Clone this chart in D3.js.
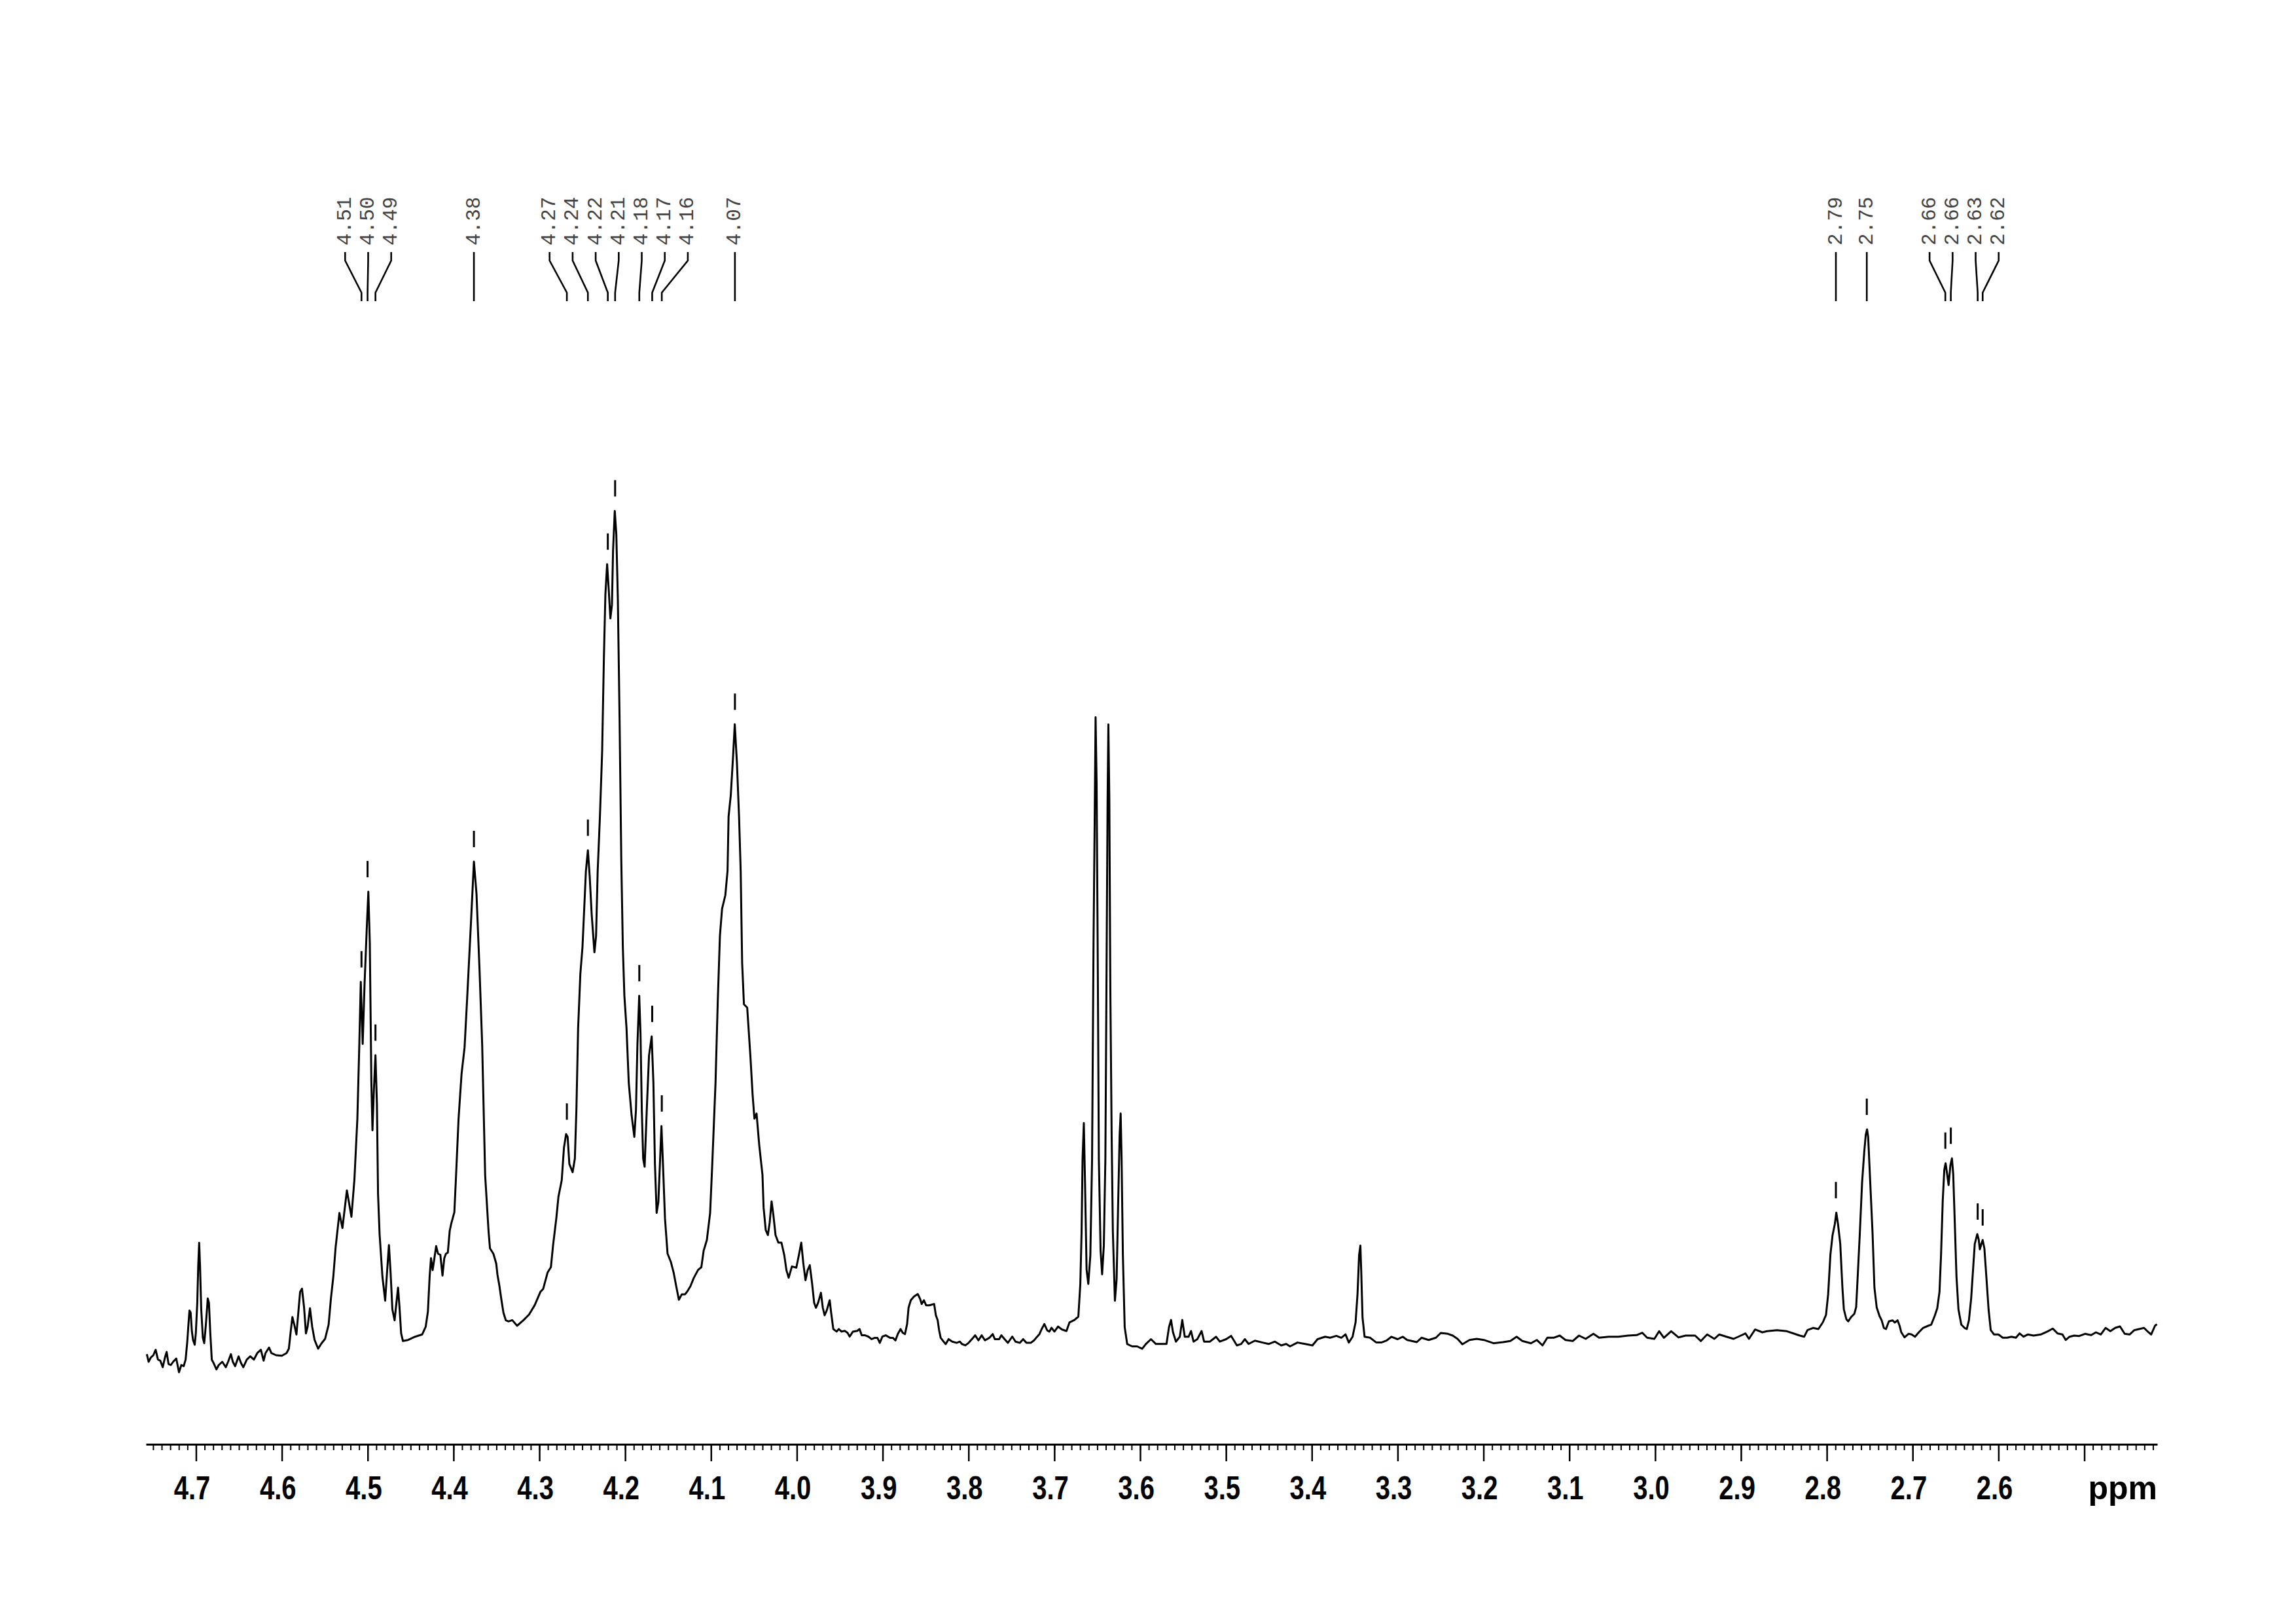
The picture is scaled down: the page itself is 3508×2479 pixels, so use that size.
<!DOCTYPE html>
<html><head><meta charset="utf-8">
<script src="https://cdn.jsdelivr.net/npm/d3@7"></script>
<style>html,body{margin:0;padding:0;background:#fff;} svg{display:block;}</style>
</head><body>
<svg id="chart" width="3508" height="2479"></svg>
<script>
// ---- DATA (chemical shift in ppm, intensity in arbitrary units) ----
const ppm = [
4.7573,4.7552,4.7525,4.7497,4.7470,4.7443,4.7416,4.7388,4.7361,4.7342,4.7320,4.7293,4.7266,4.7230,4.7198,4.7171,4.7143,4.7121,4.7102,4.7088,
4.7076,4.7062,4.7048,4.7034,4.7015,4.7002,4.6985,4.6974,4.6963,4.6953,4.6939,4.6920,4.6904,4.6885,4.6863,4.6849,4.6833,4.6816,4.6790,4.6762,
4.6735,4.6694,4.6653,4.6626,4.6593,4.6571,4.6544,4.6504,4.6476,4.6449,4.6408,4.6367,4.6326,4.6286,4.6244,4.6212,4.6190,4.6149,4.6122,4.6067,
4.5999,4.5945,4.5918,4.5899,4.5877,4.5855,4.5830,4.5809,4.5787,4.5765,4.5741,4.5719,4.5700,4.5672,4.5646,4.5618,4.5577,4.5537,4.5496,4.5455,
4.5428,4.5400,4.5373,4.5329,4.5294,4.5242,4.5189,4.5154,4.5120,4.5097,4.5080,4.5058,4.5036,4.5010,4.4992,4.4975,4.4957,4.4944,4.4927,4.4909,
4.4892,4.4879,4.4861,4.4828,4.4796,4.4774,4.4752,4.4733,4.4712,4.4686,4.4665,4.4646,4.4629,4.4610,4.4589,4.4529,4.4447,4.4365,4.4324,4.4298,
4.4278,4.4262,4.4243,4.4224,4.4202,4.4180,4.4153,4.4128,4.4107,4.4088,4.4066,4.4044,4.4025,4.3990,4.3972,4.3941,4.3906,4.3871,4.3841,4.3797,
4.3762,4.3732,4.3697,4.3666,4.3631,4.3591,4.3575,4.3535,4.3502,4.3488,4.3466,4.3440,4.3418,4.3390,4.3358,4.3315,4.3259,4.3184,4.3119,4.3053,
4.2988,4.2955,4.2904,4.2865,4.2840,4.2802,4.2777,4.2739,4.2713,4.2688,4.2670,4.2650,4.2612,4.2586,4.2568,4.2548,4.2522,4.2497,4.2477,4.2457,
4.2434,4.2413,4.2390,4.2358,4.2339,4.2320,4.2294,4.2268,4.2248,4.2230,4.2210,4.2192,4.2172,4.2154,4.2141,4.2121,4.2103,4.2085,4.2065,4.2045,
4.2027,4.2009,4.1984,4.1958,4.1925,4.1893,4.1874,4.1857,4.1836,4.1821,4.1806,4.1790,4.1773,4.1748,4.1722,4.1691,4.1671,4.1653,4.1633,4.1613,
4.1595,4.1577,4.1557,4.1536,4.1506,4.1468,4.1435,4.1405,4.1374,4.1340,4.1302,4.1277,4.1239,4.1201,4.1150,4.1112,4.1086,4.1048,4.1010,4.0985,
4.0947,4.0921,4.0896,4.0871,4.0833,4.0807,4.0795,4.0769,4.0743,4.0723,4.0698,4.0673,4.0654,4.0637,4.0616,4.0578,4.0540,4.0515,4.0494,4.0469,
4.0438,4.0400,4.0387,4.0362,4.0337,4.0316,4.0294,4.0273,4.0248,4.0215,4.0179,4.0146,4.0121,4.0095,4.0057,4.0006,3.9976,3.9948,3.9925,3.9899,
3.9874,3.9849,3.9823,3.9798,3.9777,3.9752,3.9719,3.9697,3.9676,3.9651,3.9617,3.9600,3.9575,3.9536,3.9511,3.9478,3.9442,3.9409,3.9384,3.9346,
3.9295,3.9269,3.9244,3.9205,3.9167,3.9129,3.9091,3.9061,3.9033,3.9003,3.8964,3.8913,3.8881,3.8850,3.8824,3.8791,3.8766,3.8740,3.8715,3.8698,
3.8672,3.8634,3.8591,3.8563,3.8545,3.8519,3.8494,3.8456,3.8400,3.8380,3.8359,3.8342,3.8324,3.8290,3.8265,3.8232,3.8189,3.8138,3.8100,3.8075,
3.8036,3.7998,3.7947,3.7922,3.7884,3.7846,3.7808,3.7757,3.7718,3.7693,3.7642,3.7617,3.7579,3.7541,3.7490,3.7452,3.7401,3.7363,3.7325,3.7274,
3.7236,3.7211,3.7173,3.7147,3.7116,3.7083,3.7058,3.7032,3.6999,3.6956,3.6910,3.6858,3.6823,3.6765,3.6720,3.6697,3.6682,3.6671,3.6656,3.6642,
3.6624,3.6604,3.6580,3.6560,3.6543,3.6530,3.6519,3.6507,3.6495,3.6481,3.6461,3.6443,3.6423,3.6405,3.6391,3.6379,3.6370,3.6359,3.6347,3.6332,
3.6318,3.6294,3.6274,3.6257,3.6239,3.6227,3.6216,3.6201,3.6180,3.6151,3.6093,3.6035,3.5976,3.5933,3.5874,3.5816,3.5743,3.5693,3.5664,3.5640,
3.5618,3.5583,3.5538,3.5509,3.5480,3.5436,3.5407,3.5378,3.5334,3.5284,3.5255,3.5188,3.5115,3.5072,3.4998,3.4940,3.4873,3.4823,3.4780,3.4736,
3.4663,3.4575,3.4503,3.4430,3.4356,3.4298,3.4254,3.4167,3.4080,3.3992,3.3933,3.3845,3.3787,3.3714,3.3656,3.3607,3.3569,3.3525,3.3490,3.3467,
3.3449,3.3434,3.3423,3.3409,3.3385,3.3321,3.3248,3.3190,3.3131,3.3072,3.3000,3.2941,3.2889,3.2834,3.2777,3.2722,3.2638,3.2554,3.2498,3.2414,
3.2358,3.2302,3.2246,3.2163,3.2079,3.1995,3.1883,3.1771,3.1687,3.1614,3.1547,3.1447,3.1379,3.1312,3.1256,3.1183,3.1111,3.1044,3.0960,3.0887,
3.0809,3.0719,3.0652,3.0540,3.0428,3.0316,3.0216,3.0149,3.0093,3.0009,2.9953,2.9898,2.9813,2.9729,2.9645,2.9534,2.9467,2.9394,2.9310,2.9254,
2.9170,2.9086,2.9002,2.8947,2.8907,2.8835,2.8751,2.8695,2.8581,2.8466,2.8314,2.8263,2.8225,2.8161,2.8098,2.8047,2.8009,2.7984,2.7958,2.7933,
2.7907,2.7889,2.7869,2.7843,2.7818,2.7801,2.7772,2.7750,2.7717,2.7679,2.7658,2.7640,2.7615,2.7589,2.7564,2.7546,2.7531,2.7518,2.7496,2.7467,
2.7445,2.7419,2.7386,2.7361,2.7335,2.7310,2.7277,2.7233,2.7208,2.7175,2.7152,2.7132,2.7094,2.7048,2.7012,2.6972,2.6928,2.6878,2.6819,2.6783,
2.6743,2.6713,2.6687,2.6669,2.6649,2.6631,2.6616,2.6598,2.6581,2.6560,2.6542,2.6527,2.6509,2.6489,2.6466,2.6433,2.6395,2.6369,2.6344,2.6318,
2.6293,2.6276,2.6247,2.6230,2.6217,2.6199,2.6184,2.6164,2.6141,2.6115,2.6090,2.6051,2.6001,2.5950,2.5899,2.5849,2.5797,2.5754,2.5708,2.5658,
2.5591,2.5507,2.5423,2.5367,2.5311,2.5255,2.5216,2.5171,2.5116,2.5059,2.4992,2.4920,2.4864,2.4808,2.4752,2.4696,2.4640,2.4584,2.4529,2.4472,
2.4417,2.4360,2.4304,2.4265,2.4221,2.4176,2.4154
];
const intensity = [
31.7,20,26.7,30,38.3,23.3,21.7,11.7,26.7,35,16.7,15,20,25,4,15,13.3,23.3,50,76.7,
98.3,95,66.7,53.3,46,63.3,110,166.7,201.7,166.7,100,56.7,48.3,76.7,116.7,110,63.3,23.3,16.7,8.3,
15,20,11.7,20,31.7,20,13.3,28.3,18.3,11.7,23.3,28.3,23.3,33.3,38.3,21.7,33.3,41.7,33.3,30,
29.3,33.3,40,63.3,88.3,76.7,61.7,93.3,126.7,131.7,103.3,63.3,73.3,101.7,73.3,53.3,40,48.3,55,76.7,
116.7,150,195,247.3,224.3,281.7,241.5,298.9,390.8,505.6,600.3,505.6,597.4,683.5,738,660.6,448.2,373.5,436.7,488.3,
413.7,276,215,150,113.3,157,198.3,157,100,83.3,110,133.3,103.3,63.3,51.7,53.3,58.3,61.7,73.3,96.7,
150,178.3,160,176.7,196.7,185,183.3,151.7,178.3,185,186.7,220,231.7,248.3,298.9,390.8,459.6,499.8,574.5,689.3,
784,735.2,620.4,505.6,304.7,218.5,193.3,185,170,153.3,136.7,113.3,95,83.3,81.7,83.6,75,83.6,92.3,106.6,
126.7,131.3,156.2,164.5,197.7,239.1,272.3,297.2,347,367.7,363.5,322.1,309.6,330.3,405,529.4,612.3,653.7,711.8,769.8,
801.3,761.5,703.5,645.4,670.3,769.8,852.7,952.2,1093.2,1192.7,1238.3,1201,1155.4,1176.1,1259,1319.6,1283.9,1184.4,1002,786.4,
653.7,579.1,529.4,446.4,396.7,363.5,405,504.5,579.1,521.1,405,330.3,317.9,405,487.9,516.9,446.4,322.1,247.4,264,
322.1,380.1,313.8,239.1,185.2,172.8,156.2,135.5,114.8,123.1,123.1,127.2,135.5,147.9,160.4,164.5,189.4,206,247.4,322.1,
446.4,570.8,670.3,711.8,732.5,769.8,852.7,885.9,944,993.7,935.7,852.7,769.8,628.9,566,561,485.2,427.8,391.4,399.1,
351.2,305.3,255.6,221.1,213.5,232.6,265.1,244.1,213.5,202,202,182.9,159.9,148.4,165.6,163.7,182.9,202,171.4,144.6,
159.9,167.5,140.8,110.1,102.5,110.1,125.4,102.5,91,98.7,114,94.8,70,66.1,70,66.1,67.3,64.2,58.5,66.1,
67.3,70,60.4,60.4,58.5,54.6,56.6,56.6,48.9,58.5,60.4,56.6,56.6,52.7,62.3,70,64.2,62.3,77.6,102.5,
114,119.7,123.5,115.9,108.2,114,106.3,106.3,108.2,91,83.4,68,56.6,50.8,47,54.6,50.8,48.9,50.8,47,
45.1,48.9,56.6,60.4,52.7,60.4,52.7,56.6,62.3,54.6,54.6,60.4,54.6,48.9,58.5,50.8,48.9,54.6,48.9,48.9,
52.7,56.6,62.3,70,77.6,68,66.1,71.9,66.1,73.8,69.2,67,80.2,83.9,89,138.9,219.6,329.6,384.7,293,
160.9,138.9,182.9,329.6,659.8,843.2,1004.6,901.9,659.8,329.6,190.2,153.6,197.6,329.6,623.1,879.9,993.6,879.9,586.4,366.3,
219.6,113.2,146.2,256.3,366.3,399.3,329.6,182.9,72.9,47.2,43.5,43.5,39.8,47.2,54.5,47.2,47.2,47.2,72.9,83.9,
65.5,50.8,58.2,83.9,58.2,58.2,67,50.8,54.5,67,50.8,50.8,58.2,50.8,54.5,59.6,45,47.2,54.5,47.2,
52.3,49.4,47.2,50.8,45,47.2,43.5,49.4,47.2,45,54.5,58.2,56.7,59.6,56.7,61.9,49.4,58.2,80.2,124.2,
182.9,197.6,153.6,87.5,58.2,56.7,49.4,49.4,52.3,58.2,54.5,58.2,53.3,51.7,50,56.7,53.3,56.7,64,62.7,
60,55,46.7,53.3,55,53.3,48.3,50,51.7,58.3,51.7,48.3,53.3,45,56.7,56.7,60,53.3,51.7,60,
55,62.7,56.7,58.3,58.3,60,60.7,64.3,56.7,55,66.7,56.7,66.7,57.3,60,60,51.7,61.7,55,61.7,
58.3,55,60,63.3,55,69.3,65,66.7,68.3,66.7,60,58.3,68.3,71.7,70,80,91.7,123.3,183.3,213.3,
230,247.7,230,200,133.3,100,85,81.7,88.3,93.3,103.3,150,216.7,293.3,340,366.7,375,363.3,300,216.7,
133.3,103.3,90,83.3,71.7,70,81.7,83.3,80,83.3,75,65,57.3,62.7,61.7,58.3,65,71.7,75,76.7,
90,101.7,126.7,183.3,266.7,313.3,323.3,306.7,290,320,330.7,306.7,233.3,150,100,76.7,71.7,70,83.3,116.7,
166.7,200,215,206.7,191.7,200,206,193.3,150,100,68.3,61.7,61.7,56.7,56.7,58.3,56.7,63.3,58.3,61.7,
60,61.7,66.7,70.7,63.3,61.7,53.3,58.3,60,59.3,62.7,60.7,65,61.7,71.7,66.7,71.7,74,62.7,61.7,
68.3,70,71.7,66.7,61.7,75,77.3
];
// picked peaks (ppm) and their printed labels
const peakPPM = [4.5072,4.5001,4.4909,4.3762,4.2679,4.2434,4.2202,4.2117,4.1835,4.1685,4.1573,4.0721,
                 2.7894,2.7534,2.6619,2.6555,2.6242,2.6184];
const peakLabels = ["4.51","4.50","4.49","4.38","4.27","4.24","4.22","4.21","4.18","4.17","4.16","4.07",
                    "2.79","2.75","2.66","2.66","2.63","2.62"];
// axis
const majorTicks = [4.7,4.6,4.5,4.4,4.3,4.2,4.1,4.0,3.9,3.8,3.7,3.6,3.5,3.4,3.3,3.2,3.1,3.0,2.9,2.8,2.7,2.6,2.5];
const majorTickLabels = ["4.7","4.6","4.5","4.4","4.3","4.2","4.1","4.0","3.9","3.8","3.7","3.6","3.5","3.4","3.3","3.2","3.1","3.0","2.9","2.8","2.7","2.6",""];
const minorTicks = d3.range(242, 476).map(v => v / 100);
const axisUnit = "ppm";

// ---- DRAWING ----
const svg = d3.select("#chart");
svg.append("rect").attr("width",3508).attr("height",2479).attr("fill","#fff");
const x = d3.scaleLinear().domain([4.7583, 2.4150]).range([223, 3296]);
const y = d3.scaleLinear().domain([0, 1400]).range([2100, 700]);
const axisY = 2206;

const data = ppm.map((p, i) => ({p, v: intensity[i]}));
svg.append("path").datum(data)
  .attr("fill","none").attr("stroke","#000").attr("stroke-width",3)
  .attr("stroke-linejoin","round")
  .attr("d", d3.line().x(d => x(d.p)).y(d => y(d.v)));

// axis
const gMin = svg.append("g").attr("transform",`translate(0,${axisY})`)
  .call(d3.axisBottom(x).tickValues(minorTicks).tickSize(9).tickSizeOuter(0).tickFormat(""));
gMin.select(".domain").remove();
gMin.selectAll(".tick line").attr("stroke","#000").attr("stroke-width",2);

const gMaj = svg.append("g").attr("transform",`translate(0,${axisY})`)
  .call(d3.axisBottom(x).tickValues(majorTicks).tickSize(26).tickSizeOuter(0)
        .tickFormat((d, i) => majorTickLabels[i]));
gMaj.select(".domain").attr("stroke","#000").attr("stroke-width",3);
gMaj.selectAll(".tick line").attr("stroke","#000").attr("stroke-width",2.5);
gMaj.selectAll(".tick text")
  .attr("y", 84).attr("dy", null).attr("x", -8)
  .attr("fill","#000")
  .attr("font-family","'Liberation Sans', Arial, sans-serif")
  .attr("font-weight","bold").attr("font-size",50)
  .attr("transform","scale(0.8,1)");

svg.append("text").attr("x", 3296).attr("y", axisY + 84)
  .attr("text-anchor","end")
  .attr("font-family","'Liberation Sans', Arial, sans-serif")
  .attr("font-weight","bold").attr("font-size",50).attr("fill","#000")
  .text(axisUnit);

// peak picking marks
const peaks = peakPPM.map((p, i) => {
  let best = -Infinity;
  ppm.forEach((q, j) => { if (Math.abs(q - p) <= 0.0025 && intensity[j] > best) best = intensity[j]; });
  return {p, label: peakLabels[i], px: x(p), top: y(best)};
});
svg.append("g").selectAll("line").data(peaks).join("line")
  .attr("x1", d => d.px).attr("x2", d => d.px)
  .attr("y1", d => d.top - 22).attr("y2", d => d.top - 47)
  .attr("stroke","#000").attr("stroke-width",3);

// label layout (spread overlapping labels evenly around cluster centre)
const spacing = 35.2;
const sorted = peaks.slice().sort((a, b) => a.px - b.px);
let clusters = sorted.map(d => ({items: [d]}));
function place(c) {
  const m = d3.mean(c.items, d => d.px);
  c.items.forEach((d, i) => d.lx = m + (i - (c.items.length - 1) / 2) * spacing);
}
clusters.forEach(place);
let merged = true;
while (merged) {
  merged = false;
  for (let i = 0; i < clusters.length - 1; i++) {
    const a = clusters[i], b = clusters[i + 1];
    if (b.items[0].lx - a.items[a.items.length - 1].lx < spacing - 0.01) {
      a.items = a.items.concat(b.items); place(a); clusters.splice(i + 1, 1); merged = true; break;
    }
  }
}
const gl = svg.append("g");
gl.selectAll("path").data(peaks).join("path")
  .attr("fill","none").attr("stroke","#000").attr("stroke-width",2.6)
  .attr("d", d => `M${d.lx},385 V398 L${d.px},447 V460`);
gl.selectAll("text").data(peaks).join("text")
  .attr("transform", d => `translate(${d.lx},375) rotate(-90)`)
  .attr("text-anchor","start").attr("dominant-baseline","central")
  .attr("font-family","'Liberation Mono', 'DejaVu Sans Mono', monospace")
  .attr("font-size",31).attr("fill","#444")
  .text(d => d.label);
</script>
</body></html>
